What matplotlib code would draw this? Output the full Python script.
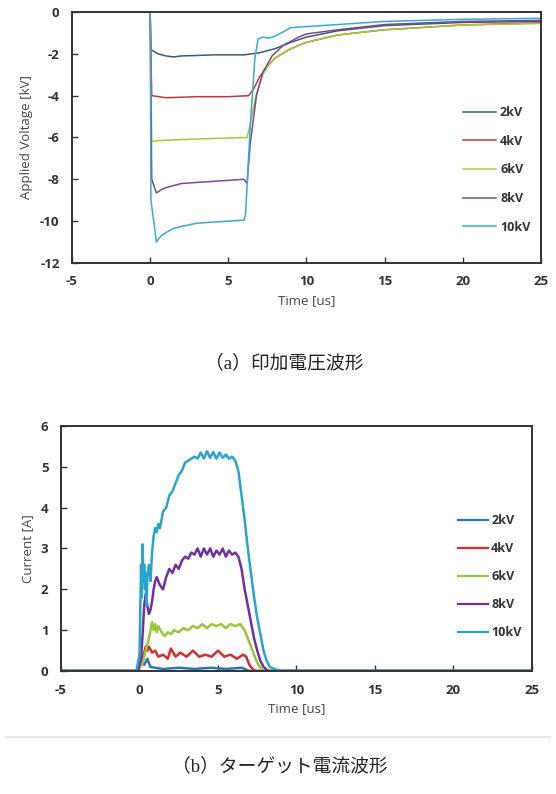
import matplotlib.pyplot as plt
from matplotlib.lines import Line2D

plt.rcParams["axes.unicode_minus"] = False

# 印加電圧波形 (kV)
labels = ["2kV", "4kV", "6kV", "8kV", "10kV"]

v2_t = [-5, 0, 0.05, 0.5, 1.0, 1.5, 2.0, 3.0, 4.0, 5.0, 6.0, 6.5, 7.0, 8.0, 9.0, 10.0, 12.0, 15.0, 20.0, 25.0]
v2_v = [0, 0, -1.8, -2.0, -2.1, -2.15, -2.1, -2.08, -2.05, -2.05, -2.05, -2.0, -1.95, -1.75, -1.45, -1.2, -0.9, -0.65, -0.5, -0.45]

v4_t = [-5, 0, 0.1, 1.0, 3.0, 5.0, 6.3, 6.6, 7.0, 7.5, 8.0, 9.0, 10.0, 12.0, 15.0, 20.0, 25.0]
v4_v = [0, 0, -4.0, -4.1, -4.05, -4.05, -4.0, -3.7, -3.1, -2.6, -2.2, -1.75, -1.45, -1.1, -0.85, -0.62, -0.52]

v6_t = [-5, 0, 0.1, 0.5, 2.0, 4.0, 6.2, 6.5, 6.8, 7.2, 7.6, 8.0, 9.0, 10.0, 12.0, 15.0, 20.0, 25.0]
v6_v = [0, 0, -6.2, -6.15, -6.1, -6.05, -6.0, -5.0, -3.9, -3.0, -2.5, -2.2, -1.75, -1.45, -1.1, -0.85, -0.62, -0.55]

v8_t = [-5, 0, 0.1, 0.4, 0.7, 1.0, 2.0, 3.0, 4.0, 5.0, 6.0, 6.2, 6.4, 6.8, 7.2, 7.8, 8.5, 9.5, 10.0, 12.0, 15.0, 20.0, 25.0]
v8_v = [0, 0, -8.0, -8.65, -8.5, -8.4, -8.2, -8.15, -8.1, -8.05, -8.0, -8.2, -6.3, -4.0, -2.9, -2.1, -1.6, -1.2, -1.05, -0.85, -0.6, -0.45, -0.4]

v10_t = [-5, 0, 0.05, 0.4, 0.7, 1.0, 1.5, 2.0, 3.0, 4.0, 5.0, 6.0, 6.1, 6.4, 6.7, 6.9, 7.2, 7.6, 8.0, 8.5, 9.0, 10.0, 12.0, 15.0, 20.0, 25.0]
v10_v = [0, 0, -9.0, -11.0, -10.7, -10.55, -10.35, -10.25, -10.1, -10.05, -10.0, -9.95, -9.7, -5.5, -2.2, -1.3, -1.2, -1.25, -1.15, -0.95, -0.75, -0.7, -0.6, -0.45, -0.35, -0.3]

# ターゲット電流波形 (A)
i2_t = [-5, -0.1, 0.1, 0.3, 0.5, 0.7, 1.0, 1.5, 2.5, 3.5, 4.5, 5.5, 6.5, 7.0, 25]
i2_a = [0, 0, 0.25, 0.15, 0.3, 0.1, 0.08, 0.05, 0.08, 0.05, 0.08, 0.05, 0.08, 0, 0]

i4_t = [-5, -0.1, 0.2, 0.4, 0.5, 0.6, 0.8, 1.0, 1.2, 1.5, 1.8, 2.0, 2.3, 2.6, 3.0, 3.4, 3.8, 4.2, 4.6, 5.0, 5.4, 5.8, 6.2, 6.6, 6.8, 7.0, 7.2, 7.4, 25]
i4_a = [0, 0, 0.3, 0.6, 0.5, 0.6, 0.45, 0.5, 0.35, 0.4, 0.3, 0.55, 0.35, 0.45, 0.35, 0.5, 0.35, 0.4, 0.35, 0.5, 0.35, 0.4, 0.3, 0.4, 0.35, 0.15, 0.05, 0, 0]

i6_t = [-5, -0.1, 0.2, 0.4, 0.6, 0.8, 0.9, 1.0, 1.1, 1.2, 1.4, 1.6, 1.8, 2.0, 2.2, 2.5, 2.8, 3.1, 3.4, 3.7, 4.0, 4.3, 4.6, 4.9, 5.2, 5.5, 5.8, 6.1, 6.4, 6.7, 6.9, 7.1, 7.3, 7.5, 7.7, 7.9, 25]
i6_a = [0, 0, 0.2, 0.5, 0.8, 1.2, 1.0, 1.15, 0.95, 1.1, 0.95, 0.85, 0.95, 0.9, 1.0, 0.95, 1.05, 1.0, 1.1, 1.05, 1.15, 1.05, 1.15, 1.1, 1.15, 1.05, 1.15, 1.1, 1.15, 1.0, 0.8, 0.6, 0.4, 0.2, 0.08, 0, 0]

i8_t = [-5, -0.1, 0.1, 0.2, 0.3, 0.4, 0.5, 0.6, 0.7, 0.8, 0.9, 1.0, 1.1, 1.3, 1.5, 1.7, 1.9, 2.1, 2.3, 2.5, 2.7, 2.9, 3.1, 3.3, 3.5, 3.7, 3.9, 4.1, 4.3, 4.5, 4.7, 4.9, 5.1, 5.3, 5.5, 5.7, 5.9, 6.1, 6.3, 6.5, 6.7, 6.9, 7.1, 7.3, 7.5, 7.7, 7.9, 8.2, 25]
i8_a = [0, 0, 0.3, 0.9, 1.6, 1.9, 1.6, 1.4, 1.5, 1.7, 2.0, 2.2, 2.3, 2.1, 2.0, 2.3, 2.5, 2.4, 2.6, 2.5, 2.7, 2.8, 2.75, 2.9, 2.85, 3.0, 2.8, 3.0, 2.85, 3.0, 2.8, 2.95, 2.85, 3.0, 2.8, 2.95, 2.85, 2.9, 2.8, 2.5, 2.0, 1.6, 1.2, 0.8, 0.5, 0.25, 0.1, 0, 0]

i10_t = [-5, -0.2, 0.0, 0.05, 0.1, 0.15, 0.2, 0.25, 0.3, 0.35, 0.4, 0.45, 0.5, 0.6, 0.7, 0.8, 0.9, 1.0, 1.1, 1.2, 1.3, 1.5, 1.7, 1.9, 2.1, 2.3, 2.5, 2.7, 2.9, 3.1, 3.3, 3.5, 3.7, 3.9, 4.1, 4.3, 4.5, 4.7, 4.9, 5.1, 5.3, 5.5, 5.7, 5.9, 6.1, 6.3, 6.5, 6.7, 6.9, 7.1, 7.3, 7.5, 7.7, 7.9, 8.1, 8.3, 8.6, 9.0, 25]
i10_a = [0, 0, 0.4, 1.5, 2.6, 1.8, 3.1, 2.2, 2.6, 2.0, 2.4, 1.6, 2.3, 2.6, 2.2, 2.9, 3.3, 3.5, 3.4, 3.6, 3.5, 3.9, 4.0, 4.3, 4.4, 4.6, 4.8, 4.9, 5.1, 5.15, 5.2, 5.25, 5.2, 5.35, 5.2, 5.38, 5.22, 5.36, 5.2, 5.35, 5.22, 5.3, 5.2, 5.25, 5.15, 4.9, 4.3, 3.7, 3.0, 2.4, 1.8, 1.3, 0.9, 0.5, 0.25, 0.1, 0.05, 0, 0]

v_colors = ["#3c5a78", "#b83c3c", "#a8c83a", "#7a4a8c", "#38aad6"]
i_colors = ["#2e75b6", "#d03030", "#9cc43c", "#7030a0", "#2aa4cc"]

tick_font = {"family": "Open Sans", "size": 9.5, "weight": "bold"}
lab_font = {"fontfamily": "Open Sans", "fontsize": 9.5, "color": "#444444"}
leg_font = {"family": "Open Sans", "size": 9, "weight": "bold"}

fig = plt.figure(figsize=(5.56, 7.94), dpi=100)


def style_axes(ax):
    for s in ax.spines.values():
        s.set_color("#333333")
        s.set_linewidth(1.4)
    ax.tick_params(direction="in", length=4, width=1, color="#333333",
                   labelcolor="#333333", pad=9)
    for lab in ax.get_xticklabels() + ax.get_yticklabels():
        lab.set_fontfamily(tick_font["family"])
        lab.set_fontsize(tick_font["size"])
        lab.set_fontweight(tick_font["weight"])


# (a) 印加電圧
ax1 = fig.add_axes([0.1295, 0.6688, 0.8435, 0.3161])
ax1.plot(v2_t, v2_v, color=v_colors[0], lw=1.1)
ax1.plot(v4_t, v4_v, color=v_colors[1], lw=1.1)
ax1.plot(v6_t, v6_v, color=v_colors[2], lw=1.1)
ax1.plot(v8_t, v8_v, color=v_colors[3], lw=1.1)
ax1.plot(v10_t, v10_v, color=v_colors[4], lw=1.1)
ax1.set_xlim(-5, 25)
ax1.set_ylim(-12, 0)
ax1.set_xticks(range(-5, 26, 5))
ax1.set_yticks(range(-12, 1, 2))
style_axes(ax1)
ax1.set_xlabel("Time [us]", labelpad=4, **lab_font)
ax1.set_ylabel("Applied Voltage [kV]", labelpad=5, **lab_font)
h1 = [Line2D([], [], color=c, lw=1.1) for c in v_colors]
ax1.legend(h1, labels, loc="center left", bbox_to_anchor=(0.834, 0.3705), frameon=False,
           borderpad=0, borderaxespad=0, handlelength=2.6, handletextpad=0.35,
           labelspacing=1.25, prop=leg_font, labelcolor="#333333")

# (b) ターゲット電流
ax2 = fig.add_axes([0.1097, 0.1549, 0.8471, 0.3086])
ax2.plot(i2_t, i2_a, color=i_colors[0], lw=1.8)
ax2.plot(i4_t, i4_a, color=i_colors[1], lw=1.8)
ax2.plot(i6_t, i6_a, color=i_colors[2], lw=1.8)
ax2.plot(i8_t, i8_a, color=i_colors[3], lw=1.8)
ax2.plot(i10_t, i10_a, color=i_colors[4], lw=1.8)
ax2.set_xlim(-5, 25)
ax2.set_ylim(0, 6)
ax2.set_xticks(range(-5, 26, 5))
ax2.set_yticks(range(0, 7, 1))
style_axes(ax2)
ax2.set_xlabel("Time [us]", labelpad=4, **lab_font)
ax2.set_ylabel("Current [A]", labelpad=5, **lab_font)
h2 = [Line2D([], [], color=c, lw=1.6) for c in i_colors]
ax2.legend(h2, labels, loc="center left", bbox_to_anchor=(0.843, 0.386), frameon=False,
           borderpad=0, borderaxespad=0, handlelength=2.4, handletextpad=0.25,
           labelspacing=1.2, prop=leg_font, labelcolor="#333333")

# 下段の図の下端に入る薄い境界線
fig.add_artist(Line2D([0.01, 0.99], [1 - 737 / 794, 1 - 737 / 794], color="#e8e8e8", lw=1.5))

cap_font = ["Liberation Serif", "Noto Sans CJK JP"]
fig.text(284 / 556, 1 - 363 / 794, "（a）印加電圧波形", ha="center", va="center",
         family=cap_font, fontsize=13.5, color="#222222")
fig.text(280 / 556, 1 - 766 / 794, "（b）ターゲット電流波形", ha="center", va="center",
         family=cap_font, fontsize=13.5, color="#222222")

fig.savefig("out.png", dpi=100)
